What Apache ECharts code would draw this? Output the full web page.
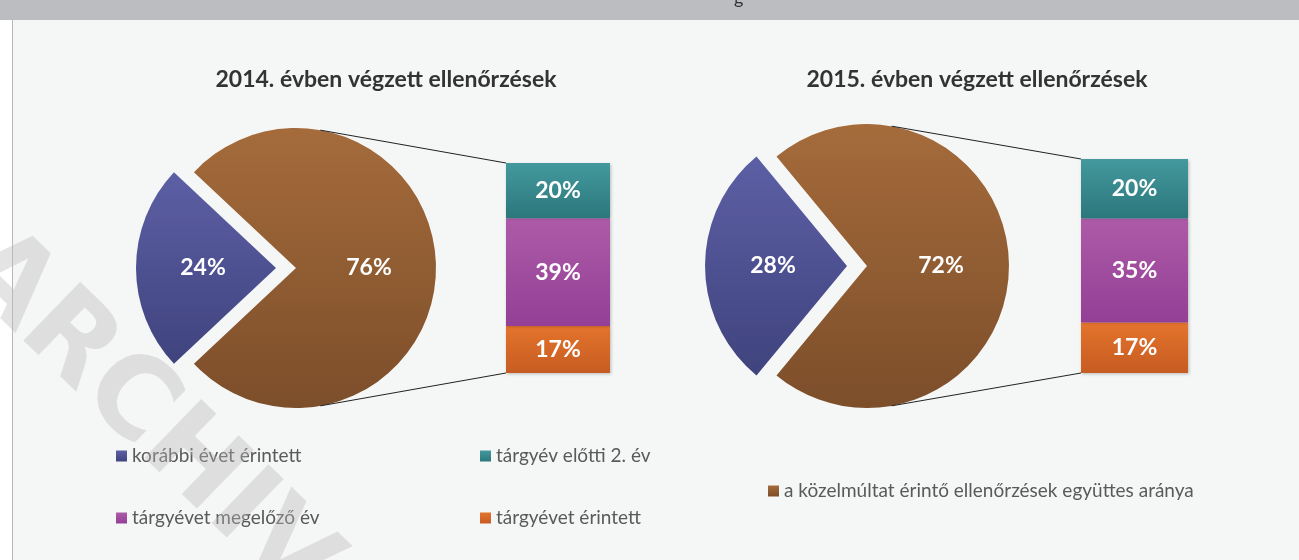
<!DOCTYPE html>
<html>
<head>
<meta charset="utf-8">
<script src="https://cdn.jsdelivr.net/npm/echarts@6/dist/echarts.min.js"></script>
<style>
  html, body { margin: 0; padding: 0; background: #ffffff; }
  #chart { width: 1299px; height: 560px; }
</style>
</head>
<body>
<div id="chart"></div>
<script>
// chart data
var years = ['2014', '2015'];
var titles = ['2014. évben végzett ellenőrzések', '2015. évben végzett ellenőrzések'];
var pieNames = ['korábbi évet érintett', 'a közelmúltat érintő ellenőrzések együttes aránya'];
var pieValues2014 = [24, 76];
var pieValues2015 = [28, 72];
var barNames = ['tárgyévet érintett', 'tárgyévet megelőző év', 'tárgyév előtti 2. év'];
var barValues2014 = [17, 39, 20];
var barValues2015 = [17, 35, 20];

// layout (pixels)
var pieCenters = [[296, 268], [867, 266]];
var pieRadius = [140, 142];
var barGrids = [
  { left: 506, top: 163, width: 104, height: 210 },
  { left: 1081, top: 159, width: 107, height: 214 }
];

function grad(c1, c2) {
  return { type: 'linear', x: 0, y: 0, x2: 0, y2: 1, colorStops: [{ offset: 0, color: c1 }, { offset: 1, color: c2 }] };
}
var pieColors = [grad('#5d5fa5', '#3f437d'), grad('#a56b3b', '#7c4e2a')];
var barColors = [grad('#e4742c', '#c65c22'), grad('#ad5ba8', '#933f96'), grad('#43999d', '#2b777c')];

var chart = echarts.init(document.getElementById('chart'));

var labelStyle = { color: '#ffffff', fontSize: 23, fontWeight: 'bold', fontFamily: 'Lato' };

function sum(arr) { var s = 0; for (var i = 0; i < arr.length; i++) s += arr[i]; return s; }

var series = [];
var grids = [], xAxes = [], yAxes = [];
var allPie = [pieValues2014, pieValues2015];
var allBar = [barValues2014, barValues2015];

for (var k = 0; k < years.length; k++) {
  var pv = allPie[k];
  series.push({
    type: 'pie',
    name: years[k],
    center: pieCenters[k],
    radius: pieRadius[k],
    startAngle: 180 + pv[0] * 1.8,
    clockwise: true,
    selectedMode: 'single',
    selectedOffset: 20,
    avoidLabelOverlap: false,
    emphasis: { scale: false, disabled: true },
    label: Object.assign({ position: 'inside', formatter: '{c}%' }, labelStyle),
    labelLine: { show: false },
    data: [
      { name: pieNames[0], value: pv[0], selected: true, itemStyle: { color: pieColors[0] } },
      { name: pieNames[1], value: pv[1], itemStyle: { color: pieColors[1] } }
    ]
  });

  grids.push(barGrids[k]);
  xAxes.push({ type: 'category', gridIndex: k, data: [years[k]], show: false });
  yAxes.push({ type: 'value', gridIndex: k, min: 0, max: sum(allBar[k]), show: false });
  for (var j = 0; j < barNames.length; j++) {
    series.push({
      type: 'bar',
      name: barNames[j],
      xAxisIndex: k,
      yAxisIndex: k,
      stack: 'bar' + k,
      barWidth: '100%',
      itemStyle: { color: barColors[j], shadowBlur: 3, shadowColor: 'rgba(0,0,0,0.25)', shadowOffsetX: 1, shadowOffsetY: 1 },
      emphasis: { disabled: true },
      label: Object.assign({ show: true, position: 'inside', formatter: '{c}%' }, labelStyle),
      data: [allBar[k][j]]
    });
  }
}

// connector lines from pie edge to bar corners
var graphics = [
  { type: 'rect', shape: { x: 12, y: 20, width: 1287, height: 540 }, style: { fill: '#f5f6f6' }, z: -10 },
  { type: 'rect', shape: { x: 0, y: 0, width: 1299, height: 20 }, style: { fill: '#bcbdc0' }, z: -9 },
  { type: 'line', shape: { x1: 12.5, y1: 20, x2: 12.5, y2: 560 }, style: { stroke: '#b8b8b8', lineWidth: 1 }, z: -9 },
  { type: 'text', x: 734, y: -11, style: { text: 'g', font: '18px Lato', fill: '#333' }, z: -8 }
];
for (var k = 0; k < years.length; k++) {
  var c = pieCenters[k], r = pieRadius[k], g = barGrids[k];
  var a = 80 * Math.PI / 180;
  var px = c[0] + r * Math.cos(a);
  graphics.push({ type: 'line', shape: { x1: px, y1: c[1] - r * Math.sin(a), x2: g.left, y2: g.top }, style: { stroke: '#222', lineWidth: 1 }, z: 5 });
  graphics.push({ type: 'line', shape: { x1: px, y1: c[1] + r * Math.sin(a), x2: g.left, y2: g.top + g.height }, style: { stroke: '#222', lineWidth: 1 }, z: 5 });
}
// watermark
graphics.push({
  type: 'text', x: -26, y: 252, rotation: -0.77, z: 100,
  style: { text: 'ARCHIV', font: 'bold 112px "DejaVu Sans"', fill: 'rgba(185,185,185,0.38)', textVerticalAlign: 'middle' }
});

var legendText = { color: '#5a5a5a', fontSize: 19, fontFamily: 'Lato', lineHeight: 20 };
var titleText = { fontSize: 23, fontWeight: 'bold', color: '#333', fontFamily: 'Lato' };
var option = {
  backgroundColor: '#ffffff',
  animation: false,
  title: [
    { text: titles[0], left: 381, top: 63, textAlign: 'center', textStyle: titleText },
    { text: titles[1], left: 972, top: 63, textAlign: 'center', textStyle: titleText }
  ],
  legend: [
    { data: [pieNames[0], barNames[1]], orient: 'vertical', left: 111, top: 441, itemGap: 42, icon: 'rect', itemWidth: 11, itemHeight: 11, textStyle: legendText, selectedMode: false },
    { data: [barNames[2], barNames[0]], orient: 'vertical', left: 475, top: 441, itemGap: 42, icon: 'rect', itemWidth: 11, itemHeight: 11, textStyle: legendText, selectedMode: false },
    { data: [pieNames[1]], left: 763, top: 476, icon: 'rect', itemWidth: 11, itemHeight: 11, textStyle: legendText, selectedMode: false }
  ],
  grid: grids,
  xAxis: xAxes,
  yAxis: yAxes,
  series: series,
  graphic: graphics
};
chart.setOption(option);
</script>
</body>
</html>
